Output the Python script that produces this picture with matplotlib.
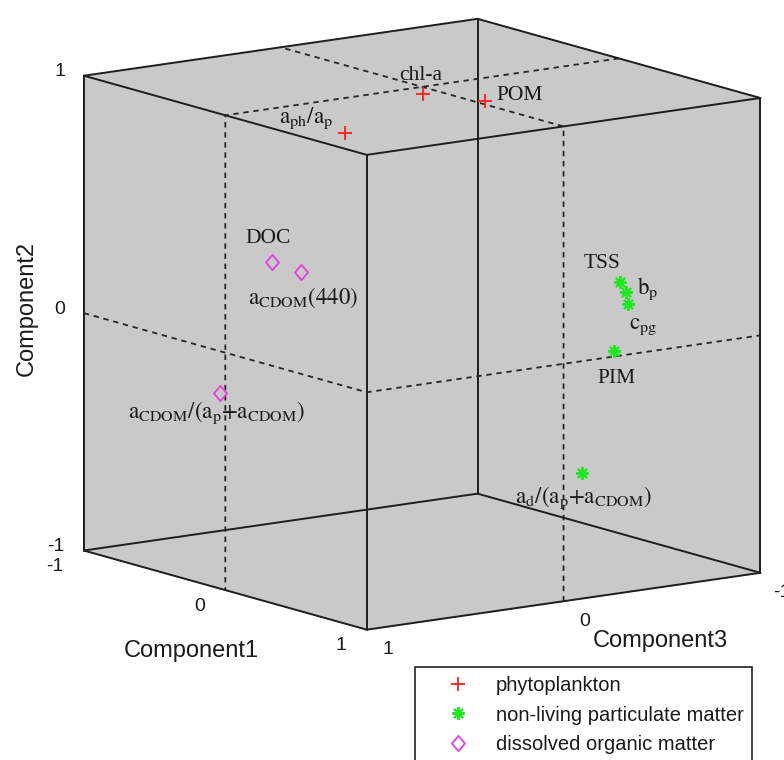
import numpy as np
import matplotlib
matplotlib.use("Agg")
import matplotlib.pyplot as plt
from matplotlib.lines import Line2D
from matplotlib.path import Path
from mpl_toolkits.mplot3d import proj3d
import itertools

# ---------------- data (loadings) ----------------
phyto_labels = ["chl-a", "POM", r"$\mathrm{a_{ph}/a_{p}}$"]
phyto_c1 = [-0.16, 0.00, -0.32]
phyto_c2 = [0.93, 0.90, 0.77]
phyto_c3 = [-0.12, -0.32, 0.16]

nlpm_labels = ["TSS", r"$\mathrm{b_{p}}$", r"$\mathrm{c_{pg}}$", "PIM",
               r"$\mathrm{a_{d}/(a_{p}{+}a_{CDOM})}$"]
nlpm_c1 = [0.45, 0.47, 0.48, 0.48, 0.49]
nlpm_c2 = [0.17, 0.13, 0.08, -0.11, -0.60]
nlpm_c3 = [-0.68, -0.70, -0.70, -0.63, -0.46]

dom_labels = ["DOC", r"$\mathrm{a_{CDOM}(440)}$", r"$\mathrm{a_{CDOM}/(a_{p}{+}a_{CDOM})}$"]
dom_c1 = [-0.41, -0.33, -0.44]
dom_c2 = [0.25, 0.21, -0.28]
dom_c3 = [0.47, 0.38, 0.71]

tick_values = [-1, 0, 1]
tick_labels = ["-1", "0", "1"]
axis_titles = ["Component1", "Component2", "Component3"]
legend_labels = ["phytoplankton", "non-living particulate matter", "dissolved organic matter"]

# ---------------- layout / style ----------------
W, H = 784, 760
PANE = (0.79, 0.79, 0.79, 1.0)
EDGE = "#1e1e1e"
TXT = "#1a1a1a"
RED, GREEN, MAG = "#ff1a1a", "#22e622", "#e040e0"
DIAMOND = Path([(0, 1), (0.85, 0), (0, -1), (-0.85, 0), (0, 1)],
               [Path.MOVETO, Path.LINETO, Path.LINETO, Path.LINETO, Path.CLOSEPOLY])

plt.rcParams["grid.linestyle"] = "--"
plt.rcParams["grid.color"] = "#262626"
plt.rcParams["grid.linewidth"] = 1.3
plt.rcParams["lines.dashed_pattern"] = [3.0, 2.6]
plt.rcParams["mathtext.fontset"] = "stix"

fig = plt.figure(figsize=(W / 100, H / 100), dpi=100)
S0 = 560
ax = fig.add_axes([100 / W, 100 / H, S0 / W, S0 / H], projection="3d",
                  proj_type="ortho", computed_zorder=False)
ax.set_xlim(-1, 1)
ax.set_ylim(-1, 1)
ax.set_zlim(-1, 1)
ax.set_box_aspect((1, 1, 1))
ax.view_init(elev=-11.6, azim=-144.3)

for axis in (ax.xaxis, ax.yaxis, ax.zaxis):
    axis.set_pane_color(PANE)
    axis.pane.set_edgecolor(PANE)
    axis.line.set_color((0, 0, 0, 0))
    axis._axinfo["tick"]["inward_factor"] = 0.0
    axis._axinfo["tick"]["outward_factor"] = 0.0
ax.set_xticks([0]); ax.set_yticks([0]); ax.set_zticks([0])
ax.set_xticklabels([""]); ax.set_yticklabels([""]); ax.set_zticklabels([""])

# ---------------- calibrate position of the cube ----------------
lims = (-1, 1)
corners = np.array(list(itertools.product(lims, lims, lims)), dtype=float)  # (c1, c3, c2)
target = {(-1, 1, 1): (85, 76), (-1, -1, 1): (477, 15), (1, -1, 1): (759, 98),
          (1, 1, 1): (367, 157), (-1, 1, -1): (85, 550), (-1, -1, -1): (477, 492),
          (1, -1, -1): (760, 573), (1, 1, -1): (367, 633)}
fig.canvas.draw()
M = ax.M
px, py, _ = proj3d.proj_transform(corners[:, 0], corners[:, 1], corners[:, 2], M)
disp = ax.transData.transform(np.column_stack([px, py]))
bb = ax.bbox
cx0, cy0, S = bb.x0 + bb.width / 2, bb.y0 + bb.height / 2, bb.width
rel = (disp - [cx0, cy0]) / S
A, b = [], []
for (c, r) in zip(corners, rel):
    tx, ty = target[tuple(int(v) for v in c)]
    A.append([r[0], 1, 0]); b.append(tx)
    A.append([r[1], 0, 1]); b.append(H - ty)
sol, *_ = np.linalg.lstsq(np.array(A), np.array(b), rcond=None)
Sn, cxn, cyn = sol
ax.set_position([(cxn - Sn / 2) / W, (cyn - Sn / 2) / H, Sn / W, Sn / H])

# ---------------- box edges ----------------
for c in corners:
    for k in range(3):
        if c[k] < 0:
            d = c.copy(); d[k] = 1
            ax.plot([c[0], d[0]], [c[1], d[1]], [c[2], d[2]], color=EDGE, lw=1.4,
                    zorder=2, solid_capstyle="round")

# ---------------- points ----------------
ax.plot(phyto_c1, phyto_c3, phyto_c2, ls="none", marker="+", ms=10, mew=1.3,
        color=RED, zorder=5)
ax.plot(nlpm_c1, nlpm_c3, nlpm_c2, ls="none", marker=(8, 2, 0), ms=9, mew=1.5,
        color=GREEN, zorder=5)
ax.plot(dom_c1, dom_c3, dom_c2, ls="none", marker=DIAMOND, ms=11, mew=1.3,
        mfc="none", mec=MAG, zorder=5)


def proj2d(x, y, z):
    u, v, _ = proj3d.proj_transform(np.atleast_1d(np.array(x, float)),
                                    np.atleast_1d(np.array(y, float)),
                                    np.atleast_1d(np.array(z, float)), M)
    return u, v


def put(x, y, z, s, dx, dy, ha, va, **kw):
    u, v = proj2d(x, y, z)
    ax.annotate(s, xy=(u[0], v[0]), xycoords="data", xytext=(dx, -dy),
                textcoords="offset pixels", ha=ha, va=va, annotation_clip=False, **kw)


# label offsets (pixels, image-down positive)
phyto_off = [(-2, -18, "center"), (11, -6, "left"), (-12, -15, "right")]
nlpm_off = [(-18, -19, "center"), (11, -3, "left"), (1, 22, "left"), (3, 27, "center"),
            (-67, 25, "left")]
dom_off = [(-4, -24, "center"), (-53, 26, "left"), (-92, 19, "left")]

for labs, c1, c2, c3, offs in ((phyto_labels, phyto_c1, phyto_c2, phyto_c3, phyto_off),
                               (nlpm_labels, nlpm_c1, nlpm_c2, nlpm_c3, nlpm_off),
                               (dom_labels, dom_c1, dom_c2, dom_c3, dom_off)):
    for s, a1, a2, a3, (dx, dy, ha) in zip(labs, c1, c2, c3, offs):
        fs = 16.5 if s.startswith("$") else 15.5
        put(a1, a3, a2, s, dx, dy, ha, "center", fontsize=fs, color=TXT,
            fontfamily="Liberation Serif")

# ---------------- tick labels ----------------
tk = dict(fontsize=14, color=TXT, fontfamily="Liberation Sans")
for v, s in zip(tick_values, tick_labels):
    put(-1, 1, v, s, -19, -4, "right", "center", **tk)      # Component2
    put(v, 1, -1, s, -20, 16, "right", "center", **tk)      # Component1
    put(1, v, -1, s, 21, 20, "center", "center", **tk)      # Component3

ak = dict(fontsize=17, color=TXT, fontfamily="Liberation Sans")
put(0, 1, -1, axis_titles[0], -34, 61, "center", "center", **ak)
put(-1, 1, 0, axis_titles[1], -57, -5, "center", "center", rotation=90, **ak)
put(1, 0, -1, axis_titles[2], 97, 40, "center", "center", **ak)

# ---------------- legend ----------------
handles = [
    Line2D([], [], ls="none", marker="+", ms=10, mew=1.3, color=RED),
    Line2D([], [], ls="none", marker=(8, 2, 0), ms=9, mew=1.5, color=GREEN),
    Line2D([], [], ls="none", marker=DIAMOND, ms=11, mew=1.3, mfc="none", mec=MAG),
]
leg = fig.legend(handles, legend_labels, loc="upper left",
                 bbox_to_anchor=(415 / W, 1 - 667 / H), borderaxespad=0,
                 prop={"family": "Liberation Sans", "size": 14.5},
                 handlelength=3.4, handletextpad=0.15, borderpad=0.45,
                 labelspacing=0.52, fancybox=False, framealpha=1.0)
leg.get_frame().set_edgecolor("#222222")
leg.get_frame().set_linewidth(1.2)
for t in leg.get_texts():
    t.set_color(TXT)

fig.savefig("out.png", dpi=100)
